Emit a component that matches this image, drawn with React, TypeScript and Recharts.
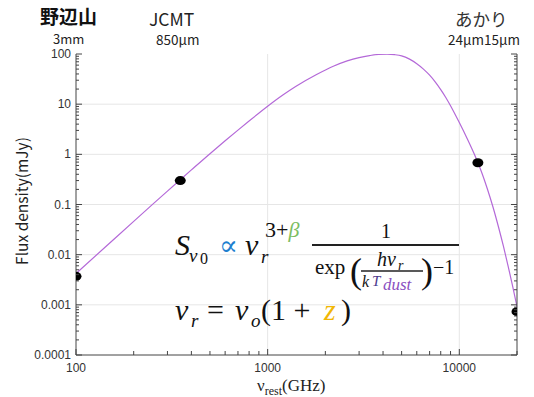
import React from "react";
import { ComposedChart, Line, Scatter, XAxis, YAxis, ReferenceLine } from "recharts";

// modified blackbody curve (GHz, mJy)
const curveFreq = [100, 150, 200, 250, 300, 350, 400, 500, 600, 700, 800, 1000, 1200, 1400, 1800, 2200, 2600, 3000, 3400, 3800, 4200, 4600, 5000, 5500, 6000, 6500, 7000, 7500, 8000, 8500, 9000, 9500, 10000, 11000, 12000, 12500, 13000, 14000, 15000, 16000, 17000, 18000, 19000, 20000];
const curveFlux = [0.0042, 0.0171, 0.0462, 0.0993, 0.185, 0.312, 0.489, 1.03, 1.86, 3.04, 4.62, 9.1, 15.2, 22.5, 39, 57, 73, 85, 93, 98, 99, 97, 92, 79, 64, 50, 37.8, 27.5, 19.5, 13.6, 9.3, 6.3, 4.3, 2.05, 0.99, 0.68, 0.466, 0.206, 0.088, 0.036, 0.0146, 0.0058, 0.0023, 0.00092];

// observed points: Nobeyama 3mm, JCMT 850um, AKARI 24um / 15um
const pointFreq = [100, 350, 12500, 20000];
const pointFlux = [0.0037, 0.3, 0.68, 0.00073];

const xMajor = [100, 1000, 10000];
const xMinor = [200, 300, 400, 500, 600, 700, 800, 900, 2000, 3000, 4000, 5000, 6000, 7000, 8000, 9000, 20000];
const yMajor = [0.0001, 0.001, 0.01, 0.1, 1, 10, 100];
const yDecades = [0.0001, 0.001, 0.01, 0.1, 1, 10];
const minorSteps = [2, 3, 4, 5, 6, 7, 8, 9];
const yMinor = yDecades.flatMap((d) => minorSteps.map((m) => +(d * m).toPrecision(2)));

const xTicks = [...xMajor, ...xMinor].sort((a, b) => a - b);
const yTicks = [...yMajor, ...yMinor].sort((a, b) => a - b);

const curve = curveFreq.map((f, i) => ({ f, s: curveFlux[i] }));
const points = pointFreq.map((f, i) => ({ f, s: pointFlux[i] }));

const AXIS = "#444";
const tickFont = "'Liberation Sans', Arial, sans-serif";
const jpFont = "'Noto Sans CJK JP', 'Noto Sans', sans-serif";
const mathFont = "'Liberation Serif', 'DejaVu Serif', serif";

const BottomTick = ({ x, y, payload }: any) => {
  const major = xMajor.includes(payload.value);
  return (
    <g>
      <line x1={x} x2={x} y1={y} y2={y - (major ? 6 : 4)} stroke={AXIS} />
      {major && (
        <text x={x} y={y + 17} textAnchor="middle" fontSize={12} fill="#333" fontFamily={tickFont}>
          {payload.value}
        </text>
      )}
    </g>
  );
};

const TopTick = ({ x, y, payload }: any) => {
  const major = xMajor.includes(payload.value);
  return <line x1={x} x2={x} y1={y} y2={y + (major ? 6 : 4)} stroke={AXIS} />;
};

const LeftTick = ({ x, y, payload }: any) => {
  const major = yMajor.includes(payload.value);
  return (
    <g>
      <line x1={x} x2={x + (major ? 6 : 3)} y1={y} y2={y} stroke={AXIS} />
      {major && (
        <text x={x - 5} y={y + 4} textAnchor="end" fontSize={12} fill="#333" fontFamily={tickFont}>
          {String(payload.value)}
        </text>
      )}
    </g>
  );
};

const RightTick = ({ x, y, payload }: any) => {
  const major = yMajor.includes(payload.value);
  return <line x1={x} x2={x - (major ? 6 : 3)} y1={y} y2={y} stroke={AXIS} />;
};

function Overlay() {
  return (
    <svg width={534} height={397} style={{ position: "absolute", left: 0, top: 0, pointerEvents: "none" }}>
      {/* instrument labels */}
      <text x={40} y={24} fontSize={19} fontWeight="bold" fontFamily={jpFont} fill="#111">野辺山</text>
      <text x={53} y={44} fontSize={13} fontFamily={jpFont} fill="#222">3mm</text>
      <text x={149} y={26} fontSize={17.5} fontFamily={jpFont} fill="#222">JCMT</text>
      <text x={156} y={45} fontSize={13.5} fontFamily={jpFont} fill="#222">850μm</text>
      <text x={455} y={26} fontSize={17.5} fontFamily={jpFont} fill="#333">あかり</text>
      <text x={448} y={45} fontSize={13.5} fontFamily={jpFont} fill="#222">24μm15μm</text>

      {/* axis titles */}
      <text x={21} y={201} transform="rotate(-90 21 201)" textAnchor="middle" dominantBaseline="central" fontSize={15.5} fontFamily={jpFont} fill="#222">
        Flux density(mJy)
      </text>
      <text x={257} y={391} fontSize={17} fontFamily={mathFont} fill="#222">
        ν<tspan fontSize={12} dy={4}>rest</tspan><tspan dy={-4}>(GHz)</tspan>
      </text>

      {/* S_ν0 ∝ ν_r^(3+β) / (exp(hν_r / kT_dust) − 1) */}
      <g fontFamily={mathFont} fill="#111">
        <text x={175} y={255} fontSize={30} fontStyle="italic">S</text>
        <text x={189} y={262} fontSize={19} fontStyle="italic">ν</text>
        <text x={200} y={264} fontSize={16}>0</text>
        <text x={219} y={255} fontSize={28} fill="#1e7fcf">∝</text>
        <text x={245} y={255} fontSize={30} fontStyle="italic">ν</text>
        <text x={261} y={263} fontSize={19} fontStyle="italic">r</text>
        <text x={265} y={237} fontSize={22}>
          3+<tspan fontStyle="italic" fill="#7cbd62">β</tspan>
        </text>
        <text x={386} y={238} fontSize={20} textAnchor="middle">1</text>
        <line x1={312} x2={459} y1={245} y2={245} stroke="#222" strokeWidth={2} />
        <text x={315} y={274} fontSize={21}>exp</text>
        <text x={350} y={283} fontSize={36}>(</text>
        <text x={421} y={283} fontSize={36}>)</text>
        <text x={377} y={266} fontSize={20} fontStyle="italic">hν</text>
        <text x={398} y={270} fontSize={14} fontStyle="italic">r</text>
        <line x1={361} x2={423} y1={271} y2={271} stroke="#222" strokeWidth={1.3} />
        <text x={362} y={287} fontSize={16} fontStyle="italic">k</text>
        <text x={372} y={286} fontSize={15} fontStyle="italic" fill="#4b3a8c">T</text>
        <text x={383} y={290} fontSize={17} fontStyle="italic" fill="#8a4fc0">dust</text>
        <text x={433} y={274} fontSize={20}>−1</text>

        {/* ν_r = ν_o(1 + z) */}
        <text x={175} y={320} fontSize={30} fontStyle="italic">ν</text>
        <text x={191} y={327} fontSize={19} fontStyle="italic">r</text>
        <text x={207} y={320} fontSize={30}>=</text>
        <text x={235} y={320} fontSize={30} fontStyle="italic">ν</text>
        <text x={251} y={327} fontSize={19} fontStyle="italic">o</text>
        <text x={261} y={320} fontSize={30}>(1 +</text>
        <text x={324} y={320} fontSize={30} fontStyle="italic" fill="#f2b705">z</text>
        <text x={341} y={320} fontSize={30}>)</text>
      </g>
    </svg>
  );
}

export default function App() {
  return (
    <div style={{ position: "absolute", left: 0, top: 0, width: 534, height: 397, background: "#fff" }}>
      <ComposedChart width={534} height={397} margin={{ top: 54, right: 0, bottom: 0, left: 0 }}>
        <XAxis
          dataKey="f"
          type="number"
          scale="log"
          domain={[100, 20000]}
          allowDataOverflow
          ticks={xTicks}
          interval={0}
          tick={<BottomTick />}
          tickSize={0}
          tickMargin={0}
          tickLine={false}
          axisLine={{ stroke: AXIS }}
          height={42}
        />
        <XAxis
          xAxisId="top"
          orientation="top"
          dataKey="f"
          type="number"
          scale="log"
          domain={[100, 20000]}
          allowDataOverflow
          ticks={xTicks}
          interval={0}
          tick={<TopTick />}
          tickSize={0}
          tickMargin={0}
          tickLine={false}
          axisLine={{ stroke: AXIS }}
          height={0}
        />
        <YAxis
          dataKey="s"
          type="number"
          scale="log"
          domain={[0.0001, 100]}
          allowDataOverflow
          ticks={yTicks}
          interval={0}
          tick={<LeftTick />}
          tickSize={0}
          tickMargin={0}
          tickLine={false}
          axisLine={{ stroke: AXIS }}
          width={76}
        />
        <YAxis
          yAxisId="right"
          orientation="right"
          dataKey="s"
          type="number"
          scale="log"
          domain={[0.0001, 100]}
          allowDataOverflow
          ticks={yTicks}
          interval={0}
          tick={<RightTick />}
          tickSize={0}
          tickMargin={0}
          tickLine={false}
          axisLine={{ stroke: AXIS }}
          width={17}
        />
        {xMajor.slice(1).map((v) => (
          <ReferenceLine key={"gx" + v} x={v} stroke="#e6e6e6" />
        ))}
        {yMajor.slice(1, -1).map((v) => (
          <ReferenceLine key={"gy" + v} y={v} stroke="#e6e6e6" />
        ))}
        <Line
          data={curve}
          dataKey="s"
          type="monotone"
          stroke="#b469d8"
          strokeWidth={1.2}
          dot={false}
          isAnimationActive={false}
        />
        <Scatter
          data={points}
          dataKey="s"
          fill="#000"
          isAnimationActive={false}
          shape={(p: any) => <ellipse cx={p.cx} cy={p.cy} rx={5.5} ry={4.5} fill="#000" />}
        />
      </ComposedChart>
      <Overlay />
    </div>
  );
}
